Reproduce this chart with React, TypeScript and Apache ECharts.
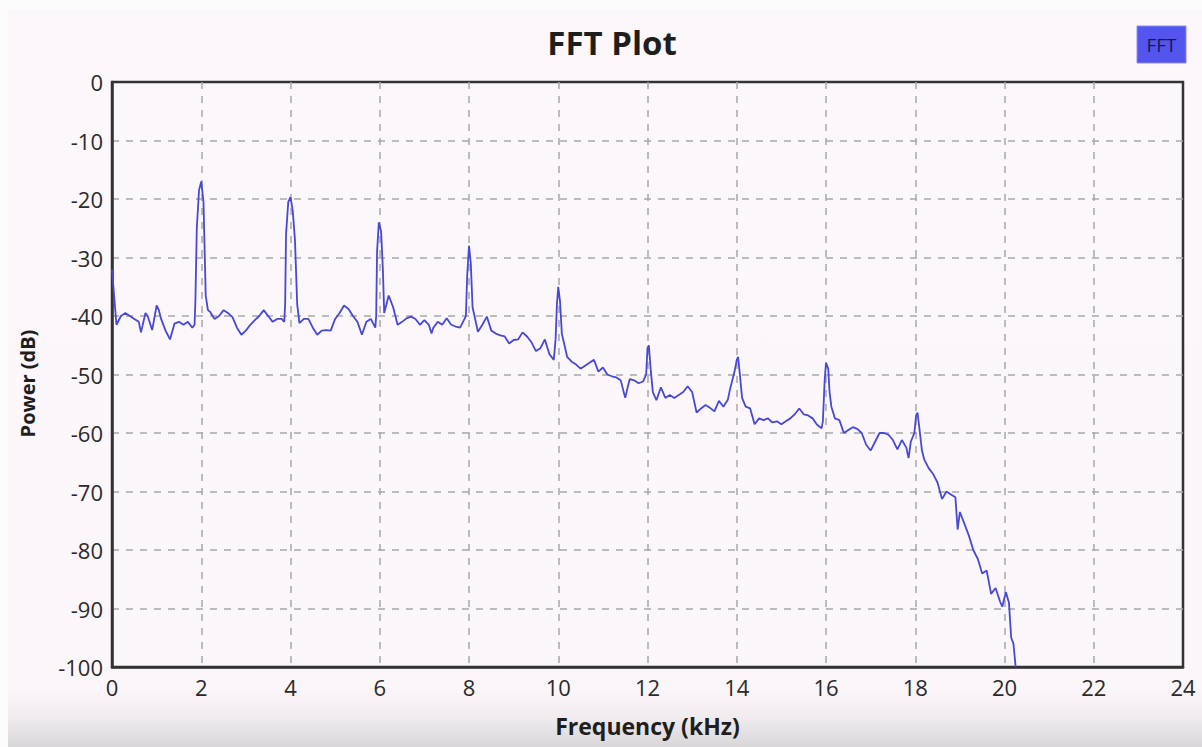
import React, { useEffect, useRef } from "react";
import * as echarts from "echarts";

const chartTitle = "FFT Plot";
const seriesName = "FFT";
const xAxisName = "Frequency (kHz)";
const yAxisName = "Power (dB)";

const freqKHz: number[] = [
  0.0, 0.02, 0.1, 0.2, 0.3, 0.4, 0.5, 0.6, 0.65, 0.75, 0.8, 0.9, 1.0, 1.05, 1.1, 1.2, 1.3, 1.4, 1.5, 1.6, 1.7, 1.8, 1.85,
  1.87, 1.9, 1.95, 2.0, 2.05, 2.1, 2.15, 2.2, 2.3, 2.4, 2.5, 2.6, 2.7, 2.8, 2.9, 3.0, 3.1, 3.2, 3.3, 3.4, 3.5, 3.6, 3.7, 3.8, 3.86,
  3.88, 3.9, 3.95, 4.0, 4.05, 4.1, 4.15, 4.2, 4.3, 4.4, 4.5, 4.6, 4.7, 4.8, 4.9, 5.0, 5.1, 5.2, 5.3, 5.4, 5.5, 5.6, 5.7, 5.8, 5.9,
  5.92, 5.94, 5.98, 6.03, 6.07, 6.1, 6.2, 6.3, 6.4, 6.5, 6.6, 6.7, 6.8, 6.9, 7.0, 7.1, 7.16, 7.2, 7.3, 7.4, 7.5, 7.6, 7.7, 7.8, 7.9,
  7.93, 7.96, 8.0, 8.04, 8.08, 8.2, 8.3, 8.4, 8.5, 8.6, 8.7, 8.8, 8.9, 9.0, 9.1, 9.2, 9.3, 9.4, 9.5, 9.6, 9.7, 9.8, 9.9,
  9.94, 9.97, 10.0, 10.04, 10.08, 10.2, 10.3, 10.4, 10.5, 10.6, 10.7, 10.8, 10.9, 11.0, 11.1, 11.2, 11.3, 11.4, 11.5, 11.6, 11.7, 11.8, 11.9,
  11.97, 12.0, 12.03, 12.07, 12.12, 12.2, 12.3, 12.4, 12.5, 12.6, 12.7, 12.8, 12.9, 13.0, 13.1, 13.2, 13.3, 13.4, 13.5, 13.6, 13.7, 13.8,
  13.85, 13.95, 14.0, 14.03, 14.07, 14.12, 14.2, 14.3, 14.4, 14.5, 14.6, 14.7, 14.8, 14.9, 15.0, 15.1, 15.2, 15.3, 15.4, 15.5, 15.6, 15.7, 15.8, 15.9,
  15.93, 15.97, 16.0, 16.05, 16.08, 16.12, 16.2, 16.3, 16.4, 16.5, 16.6, 16.7, 16.8, 16.9, 17.0, 17.1, 17.2, 17.3, 17.4, 17.5, 17.6, 17.7, 17.8, 17.85, 17.9,
  17.98, 18.02, 18.05, 18.09, 18.15, 18.2, 18.3, 18.4, 18.5, 18.6, 18.7, 18.8, 18.9, 18.95, 19.0, 19.1, 19.2, 19.3, 19.4, 19.5, 19.6, 19.7, 19.8, 19.9,
  19.95, 20.03, 20.1, 20.15, 20.2, 20.25,
];

const powerDb: number[] = [
  -32, -34, -41.5, -40, -39.5, -40, -40.5, -41, -42.8, -39.5, -40, -42.4, -38.2, -39, -40.5, -42.5, -44, -41.3, -41, -41.5, -41, -42, -41.5,
  -37, -25, -18.5, -17, -20.5, -36.5, -39, -39.3, -40.5, -40, -39, -39.5, -40.2, -42, -43.2, -42.5, -41.5, -40.7, -40, -39, -40, -41, -40.5, -40.5, -41,
  -38, -26, -20.5, -19.7, -22, -27, -38, -41.2, -40.5, -40.5, -42, -43.2, -42.5, -42.4, -42.5, -40.5, -39.5, -38.2, -38.8, -40, -41, -43.2, -41, -40.5, -42,
  -40, -29, -24, -25.5, -32, -39.5, -36.5, -38.5, -41.5, -41, -40.4, -40.1, -40.5, -41.5, -40.7, -41.5, -43, -42, -41, -41.5, -40.4, -41.5, -41.8, -42, -40.5,
  -40, -33, -28, -31, -38.5, -42.7, -41.5, -40.1, -42.5, -43, -43.3, -43.5, -44.7, -44.1, -44, -42.8, -43.5, -44.5, -46, -45.5, -44, -46.5, -47.5,
  -44, -38, -35, -37.5, -43, -47, -47.8, -48.3, -49, -48.5, -48, -47.5, -49.5, -48.8, -50, -50.3, -50.5, -51, -54, -50.8, -51, -51.5, -51.2,
  -50, -45.5, -45, -49, -53, -54.4, -52.2, -54, -53.5, -54, -53.5, -53, -52, -53, -56.5, -55.8, -55.2, -55.7, -56.3, -54.5, -55.5, -54.3,
  -52.5, -49.5, -47.5, -47, -50, -54, -55.5, -55.8, -58.5, -57.5, -57.8, -57.5, -58.2, -58, -58.5, -58, -57.5, -56.8, -55.8, -56.8, -57, -57.5, -58.6, -59.2,
  -58, -51, -48, -49, -53, -55.5, -57.5, -57.8, -60, -59.5, -59, -59.3, -60, -62, -63, -61.5, -60, -60, -60.3, -61.2, -62.8, -61.2, -62.5, -64.3, -61.5,
  -60, -57, -56.5, -59, -63, -64.5, -66, -67, -68.5, -71.3, -70, -70.5, -71, -76.5, -73.5, -75.5, -77.5, -80, -81.5, -84, -83.5, -87.5, -86.5, -88.8,
  -89.7, -87.2, -89, -95, -96, -100,
];

const xTicks = { min: 0, max: 24, interval: 2 };
const yTicks = { min: -100, max: 0, interval: 10 };

export default function App() {
  const ref = useRef<HTMLDivElement>(null);
  useEffect(() => {
    if (!ref.current) return;
    const chart = echarts.init(ref.current, undefined, { renderer: "svg" });
    const data = freqKHz.map((f, i) => [f, powerDb[i]]);
    const labelFont = { fontFamily: "Open Sans", fontSize: 22, fontWeight: 500, color: "#2a2a2a" };
    const split = {
      show: true,
      showMinLine: false,
      showMaxLine: false,
      lineStyle: { color: "#a8a8a8", type: [7, 7], width: 1.5 },
    };
    chart.setOption({
      animation: false,
      backgroundColor: "#fdfcfd",
      title: {
        text: chartTitle,
        left: 607,
        top: 21,
        textAlign: "center",
        textStyle: { fontFamily: "Open Sans", fontSize: 33, fontWeight: "bold", color: "#1e1e1e" },
      },
      graphic: [
        {
          type: "rect",
          z: -10,
          silent: true,
          shape: { x: 8, y: 10, width: 1194, height: 737 },
          style: {
            fill: {
              type: "linear",
              x: 0,
              y: 0,
              x2: 0,
              y2: 1,
              colorStops: [
                { offset: 0, color: "#fcf7fb" },
                { offset: 0.92, color: "#fbf6fa" },
                { offset: 0.96, color: "#efebee" },
                { offset: 1, color: "#d9d6d9" },
              ],
            },
          },
        },
        {
          type: "rect",
          shape: { x: 1137, y: 26, width: 49, height: 37 },
          style: { fill: "#5454ee", stroke: "#8c8cf2", lineWidth: 1 },
        },
        {
          type: "text",
          x: 1161.5,
          y: 45,
          style: {
            text: seriesName,
            fill: "#16165a",
            font: "19px 'Open Sans'",
            align: "center",
            verticalAlign: "middle",
          },
        },
      ],
      grid: {
        left: 112,
        right: 19,
        top: 82,
        bottom: 80,
        show: true,
        borderColor: "#333",
        borderWidth: 2.5,
        backgroundColor: "transparent",
      },
      xAxis: {
        type: "value",
        min: xTicks.min,
        max: xTicks.max,
        interval: xTicks.interval,
        name: xAxisName,
        nameLocation: "middle",
        nameGap: 47,
        nameTextStyle: { fontFamily: "Open Sans", fontSize: 23, fontWeight: "bold", color: "#1e1e1e" },
        axisLine: { show: true, onZero: false, lineStyle: { color: "#333", width: 2.5 } },
        axisTick: { show: false },
        axisLabel: { ...labelFont, margin: 9 },
        splitLine: split,
      },
      yAxis: {
        type: "value",
        min: yTicks.min,
        max: yTicks.max,
        interval: yTicks.interval,
        name: yAxisName,
        nameLocation: "middle",
        nameGap: 75,
        nameRotate: 90,
        nameTextStyle: {
          fontFamily: "Open Sans",
          fontSize: 20,
          fontWeight: "bold",
          color: "#1e1e1e",
          padding: [0, 18, 0, 0],
        },
        axisLine: { show: true, onZero: false, lineStyle: { color: "#333", width: 2.5 } },
        axisTick: { show: false },
        axisLabel: { ...labelFont, margin: 9 },
        splitLine: split,
      },
      series: [
        {
          name: seriesName,
          type: "line",
          data,
          showSymbol: false,
          symbol: "none",
          clip: true,
          lineStyle: { color: "#4848d6", width: 1.8 },
        },
      ],
    });
    return () => chart.dispose();
  }, []);
  return <div ref={ref} style={{ position: "fixed", left: 0, top: 0, width: 1202, height: 747 }} />;
}
